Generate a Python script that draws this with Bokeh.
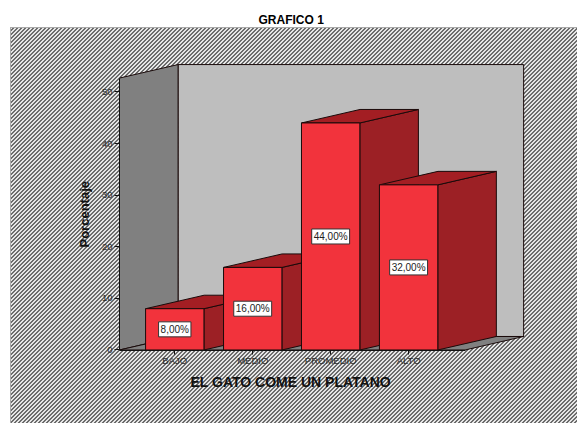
from bokeh.plotting import figure
from bokeh.core.properties import value
from bokeh.models import ColumnDataSource, FixedTicker, Range1d, Title
from bokeh.embed import file_html
from bokeh.resources import INLINE

categories = ["BAJO", "MEDIO", "PROMEDIO", "ALTO"]
percent = [8.0, 16.0, 44.0, 32.0]
value_labels = ["8,00%", "16,00%", "44,00%", "32,00%"]
y_ticks = [0, 10, 20, 30, 40, 50]
title_text = "GRAFICO 1"
x_title = "EL GATO COME UN PLATANO"
y_title = "Porcentaje"

# layout in page pixels -> scales
PX_PER_CAT = 78.0
PX_PER_VAL = 5.16
FRONT_RED, SIDE_RED, TOP_RED = "#F2333C", "#9C2025", "#A31E23"
WALL_L, WALL_B, FLOOR = "#808080", "#BEBEBE", "#808080"
EDGE = "#1a0a0a"
TXT = "#2a2a2a"

half = 29.2 / PX_PER_CAT
dx = 58.6 / PX_PER_CAT
dy = 13.5 / PX_PER_VAL
wall_x0 = (118.7 - 174) / PX_PER_CAT
wall_x1 = (464.5 - 174) / PX_PER_CAT
wall_top = 52.7

p = figure(width=577, height=423, output_backend="svg", toolbar_location=None,
           x_range=Range1d(wall_x0, (577 - 174) / PX_PER_CAT),
           y_range=Range1d(-0.1, (349.5 - 27) / PX_PER_VAL),
           min_border_left=119, min_border_right=0, min_border_top=27, min_border_bottom=73)
p.background_fill_color = None
p.border_fill_color = None
p.outline_line_color = None
p.grid.visible = False

# hatched panel behind the transparent canvas
p.styles = {
    "background": (
        "linear-gradient(white,white) 0 0/100% 27px no-repeat,"
        "linear-gradient(white,white) 0 0/10px 100% no-repeat,"
        "linear-gradient(#aaa,#aaa) 10px 27px/100% 1px no-repeat,"
        "linear-gradient(#aaa,#aaa) 10px 27px/1px 100% no-repeat,"
        "linear-gradient(135deg,#6c6c6c 25%,#e6e6e6 25%,#e6e6e6 50%,#6c6c6c 50%,#6c6c6c 75%,#e6e6e6 75%) 0 0/4px 4px"
    )
}

# walls and floor
p.patch([wall_x0 + dx, wall_x1 + dx, wall_x1 + dx, wall_x0 + dx], [dy, dy, wall_top + dy, wall_top + dy],
        fill_color=WALL_B, line_color=EDGE, line_width=1)
p.patch([wall_x0, wall_x0 + dx, wall_x0 + dx, wall_x0], [0, dy, wall_top + dy, wall_top],
        fill_color=WALL_L, line_color=EDGE, line_width=1)
p.patch([wall_x0, wall_x0 + dx, wall_x1 + dx, wall_x1], [0, dy, dy, 0],
        fill_color=FLOOR, line_color=EDGE, line_width=1)

# bars, back to front
for i, v in enumerate(percent):
    l, r = i - half, i + half
    p.patch([r, r + dx, r + dx, r], [0, dy, v + dy, v], fill_color=SIDE_RED, line_color=EDGE, line_width=1)
    p.patch([l, l + dx, r + dx, r], [v, v + dy, v + dy, v], fill_color=TOP_RED, line_color=EDGE, line_width=1)
    p.quad(left=[l], right=[r], bottom=[0], top=[v], fill_color=FRONT_RED, line_color=EDGE, line_width=1)

src = ColumnDataSource(dict(x=list(range(len(categories))), y=[v / 2 for v in percent], t=value_labels))
p.text(x="x", y="y", text="t", source=src, text_align="center", text_baseline="middle",
       text_font=value("Liberation Sans"), text_font_size="10px", text_color="#222222",
       background_fill_color="white", border_line_color="#333333", padding=2)

# axes
xa = p.xaxis[0]
xa.ticker = FixedTicker(ticks=list(range(len(categories))))
xa.major_label_overrides = {i: c for i, c in enumerate(categories)}
xa.bounds = (wall_x0, wall_x1)
xa.major_tick_out = 4
xa.major_tick_in = 0
xa.minor_tick_line_color = None
xa.axis_line_color = "#111111"
xa.major_tick_line_color = "#111111"
xa.major_label_standoff = 0
xa.major_label_text_font = "Liberation Sans"
xa.major_label_text_font_size = "9.5px"
xa.major_label_text_color = TXT

ya = p.yaxis[0]
ya.ticker = FixedTicker(ticks=y_ticks)
ya.bounds = (0, wall_top)
ya.major_tick_out = 5
ya.major_tick_in = 0
ya.minor_tick_line_color = None
ya.axis_line_color = "#111111"
ya.major_tick_line_color = "#111111"
ya.major_label_standoff = 2
ya.major_label_text_font = "Liberation Sans"
ya.major_label_text_font_size = "9.5px"
ya.major_label_text_color = TXT

# titles
p.title = Title(text=title_text, align="left", offset=139, standoff=2,
                text_font="Liberation Sans", text_font_style="bold", text_font_size="12px", text_color="black")
p.add_layout(Title(text=x_title, align="left", offset=71, standoff=6,
                   text_font="Liberation Sans", text_font_style="bold", text_font_size="14px", text_color="#111111"), "below")
p.add_layout(Title(text=y_title, align="left", offset=103, standoff=14,
                   text_font="Liberation Sans", text_font_style="bold", text_font_size="13px", text_color="#111111"), "left")

open("out.html", "w").write(file_html(p, INLINE))
